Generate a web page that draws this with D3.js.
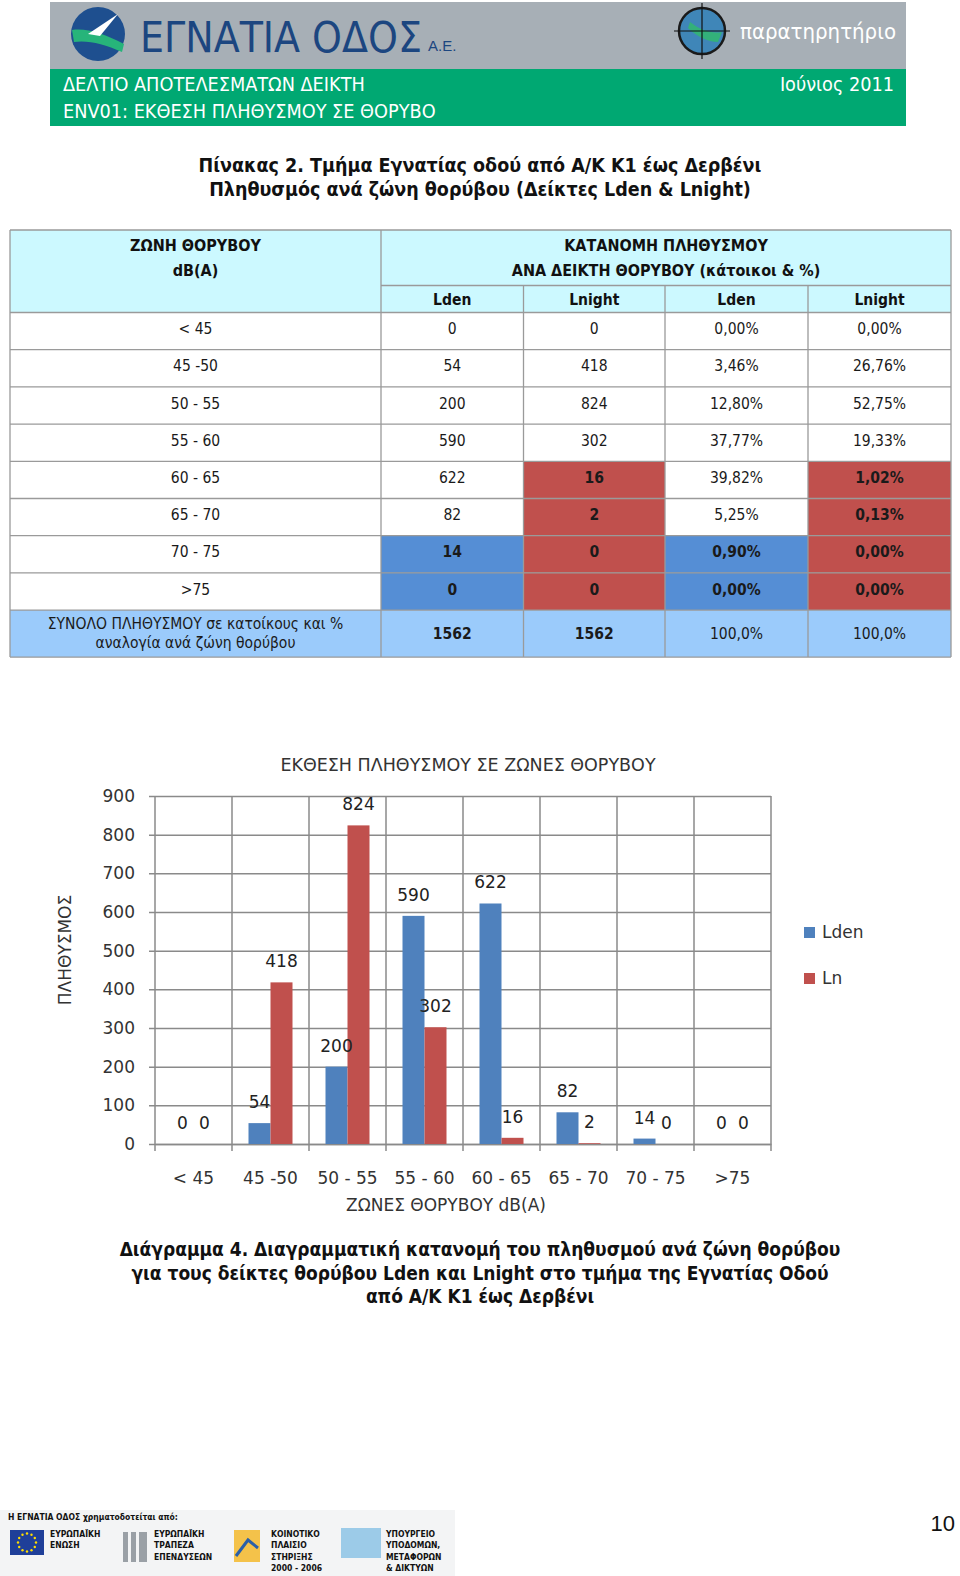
<!DOCTYPE html>
<html><head><meta charset="utf-8">
<script src="https://cdn.jsdelivr.net/npm/d3@7"></script>
<style>
html,body{margin:0;padding:0;background:#fff;}
svg{display:block;}
.cond{font-family:"DejaVu Sans Condensed","DejaVu Sans",sans-serif;font-stretch:condensed;}
.chart text{font-family:"DejaVu Sans",Verdana,sans-serif;}
</style></head>
<body>
<script>
// ---------- DATA ----------
const zones = ["< 45","45 -50","50 - 55","55 - 60","60 - 65","65 - 70","70 - 75",">75"];
const tableZones = ["< 45","45 -50","50 - 55","55 - 60","60 - 65","65 - 70","70 - 75",">75"];
const ldenValues = [0,54,200,590,622,82,14,0];
const lnightValues = [0,418,824,302,16,2,0,0];
const ldenPct = ["0,00%","3,46%","12,80%","37,77%","39,82%","5,25%","0,90%","0,00%"];
const lnightPct = ["0,00%","26,76%","52,75%","19,33%","1,02%","0,13%","0,00%","0,00%"];
const ldenHighlight = [false,false,false,false,false,false,true,true];
const lnightHighlight = [false,false,false,false,true,true,true,true];
const totals = ["1562","1562","100,0%","100,0%"];
const seriesNames = ["Lden","Ln"];
const yTicks = [0,100,200,300,400,500,600,700,800,900];

const W = 960, H = 1576;
const svg = d3.select("body").append("svg").attr("width",W).attr("height",H);

// ---------- HEADER ----------
const hdr = svg.append("g");
hdr.append("rect").attr("x",50).attr("y",2).attr("width",856).attr("height",67).attr("fill","#a7afb6");
hdr.append("rect").attr("x",50).attr("y",69).attr("width",856).attr("height",57).attr("fill","#00a872");
hdr.append("circle").attr("cx",98).attr("cy",34).attr("r",27).attr("fill","#1e4f8f");
hdr.append("path").attr("d","M72,30 C88,28 104,34 124,44 L122,52 C104,44 88,40 74,42 Z").attr("fill","#27b47a");
hdr.append("path").attr("d","M88,34 L118,14 L100,36 Z").attr("fill","#ffffff");
hdr.append("text").attr("x",140).attr("y",52).attr("fill","#1c4680")
  .attr("font-family","Liberation Sans Narrow, DejaVu Sans Condensed, sans-serif").attr("font-size",42).attr("font-stretch","condensed")
  .attr("textLength",282).attr("lengthAdjust","spacingAndGlyphs").text("ΕΓΝΑΤΙΑ ΟΔΟΣ");
hdr.append("text").attr("x",428).attr("y",51).attr("fill","#1c4680").attr("font-family","Liberation Sans Narrow, sans-serif").attr("font-size",15).text("Α.Ε.");
const ob = hdr.append("g");
ob.append("circle").attr("cx",702).attr("cy",31).attr("r",23).attr("fill","#3f86b8").attr("stroke","#1a1a1a").attr("stroke-width",2.5);
ob.append("path").attr("d","M690,22 C700,30 712,34 722,32 L718,42 C708,42 696,36 688,28 Z").attr("fill","#33b07a");
ob.append("line").attr("x1",674).attr("x2",730).attr("y1",31).attr("y2",31).attr("stroke","#111").attr("stroke-width",1.2);
ob.append("line").attr("x1",702).attr("x2",702).attr("y1",3).attr("y2",59).attr("stroke","#111").attr("stroke-width",1.2);
hdr.append("text").attr("x",740).attr("y",39).attr("fill","#fff").attr("class","cond").attr("font-size",22).text("παρατηρητήριο");
hdr.append("text").attr("x",63).attr("y",91).attr("fill","#fff").attr("class","cond").attr("font-size",19.7).text("ΔΕΛΤΙΟ ΑΠΟΤΕΛΕΣΜΑΤΩΝ ΔΕΙΚΤΗ");
hdr.append("text").attr("x",63).attr("y",118).attr("fill","#fff").attr("class","cond").attr("font-size",19.7).text("ENV01: ΕΚΘΕΣΗ ΠΛΗΘΥΣΜΟΥ ΣΕ ΘΟΡΥΒΟ");
hdr.append("text").attr("x",894).attr("y",91).attr("fill","#fff").attr("class","cond").attr("font-size",19.7).attr("text-anchor","end").text("Ιούνιος 2011");

// ---------- TABLE TITLE ----------
svg.append("text").attr("class","cond").attr("x",480).attr("y",172).attr("text-anchor","middle").attr("font-size",19.5).attr("font-weight","bold").attr("fill","#111")
  .text("Πίνακας 2.  Τμήμα Εγνατίας οδού από  Α/Κ Κ1 έως Δερβένι");
svg.append("text").attr("class","cond").attr("x",480).attr("y",196).attr("text-anchor","middle").attr("font-size",19.5).attr("font-weight","bold").attr("fill","#111")
  .text("Πληθυσμός ανά ζώνη θορύβου (Δείκτες Lden & Lnight)");

// ---------- TABLE ----------
const colX = [10,381,523.5,665,808,951];
const hTop = 230, subY = 285.5, rowTop = 312.5, rowH = 37.2;
const tbl = svg.append("g").attr("class","cond");
const borderC = "#9a9a9a";
const leftC = (colX[0]+colX[1])/2;
tbl.append("rect").attr("x",colX[0]).attr("y",hTop).attr("width",colX[5]-colX[0]).attr("height",rowTop-hTop).attr("fill","#ccf9ff");
tableZones.forEach((z,i)=>{
  const y = rowTop + i*rowH;
  const cells = [
    {t:String(ldenValues[i]), hl:ldenHighlight[i], c:"#558ed5"},
    {t:String(lnightValues[i]), hl:lnightHighlight[i], c:"#c0504d"},
    {t:ldenPct[i], hl:ldenHighlight[i], c:"#558ed5"},
    {t:lnightPct[i], hl:lnightHighlight[i], c:"#c0504d"}
  ];
  cells.forEach((c,j)=>{
    if(c.hl) tbl.append("rect").attr("x",colX[j+1]).attr("y",y).attr("width",colX[j+2]-colX[j+1]).attr("height",rowH).attr("fill",c.c);
    tbl.append("text").attr("x",(colX[j+1]+colX[j+2])/2).attr("y",y+rowH/2+3).attr("text-anchor","middle")
      .attr("font-size",15.5).attr("font-weight",c.hl?"bold":"normal").attr("fill","#1a1a1a").text(c.t);
  });
  tbl.append("text").attr("x",leftC).attr("y",y+rowH/2+3).attr("text-anchor","middle").attr("font-size",15.5).attr("fill","#1a1a1a").text(z);
});
const tY = rowTop + 8*rowH, tH = 47;
tbl.append("rect").attr("x",colX[0]).attr("y",tY).attr("width",colX[5]-colX[0]).attr("height",tH).attr("fill","#9bcbfb");
tbl.append("text").attr("x",leftC).attr("y",tY+19).attr("text-anchor","middle").attr("font-size",15.5).attr("fill","#1a1a1a").text("ΣΥΝΟΛΟ ΠΛΗΘΥΣΜΟΥ σε κατοίκους και %");
tbl.append("text").attr("x",leftC).attr("y",tY+38).attr("text-anchor","middle").attr("font-size",15.5).attr("fill","#1a1a1a").text("αναλογία ανά ζώνη θορύβου");
totals.forEach((t,j)=>{
  tbl.append("text").attr("x",(colX[j+1]+colX[j+2])/2).attr("y",tY+tH/2+5).attr("text-anchor","middle")
    .attr("font-size",15.5).attr("font-weight",j<2?"bold":"normal").attr("fill","#1a1a1a").text(t);
});
const midR = (colX[1]+colX[5])/2;
tbl.append("text").attr("x",leftC).attr("y",251).attr("text-anchor","middle").attr("font-size",16).attr("font-weight","bold").attr("fill","#111").text("ΖΩΝΗ ΘΟΡΥΒΟΥ");
tbl.append("text").attr("x",leftC).attr("y",276).attr("text-anchor","middle").attr("font-size",16).attr("font-weight","bold").attr("fill","#111").text("dB(A)");
tbl.append("text").attr("x",midR).attr("y",251).attr("text-anchor","middle").attr("font-size",16).attr("font-weight","bold").attr("fill","#111").text("ΚΑΤΑΝΟΜΗ ΠΛΗΘΥΣΜΟΥ");
tbl.append("text").attr("x",midR).attr("y",276).attr("text-anchor","middle").attr("font-size",16).attr("font-weight","bold").attr("fill","#111").text("ΑΝΑ ΔΕΙΚΤΗ ΘΟΡΥΒΟΥ (κάτοικοι & %)");
["Lden","Lnight","Lden","Lnight"].forEach((t,j)=>{
  tbl.append("text").attr("x",(colX[j+1]+colX[j+2])/2).attr("y",305).attr("text-anchor","middle").attr("font-size",15.5).attr("font-weight","bold").attr("fill","#111").text(t);
});
const bl = tbl.append("g").attr("stroke",borderC).attr("stroke-width",1.3);
const hLines = [hTop,rowTop]; for(let i=1;i<=8;i++) hLines.push(rowTop+i*rowH); hLines.push(tY+tH);
hLines.forEach(y=>bl.append("line").attr("x1",colX[0]).attr("x2",colX[5]).attr("y1",y).attr("y2",y));
bl.append("line").attr("x1",colX[1]).attr("x2",colX[5]).attr("y1",subY).attr("y2",subY);
[colX[0],colX[1],colX[5]].forEach(x=>bl.append("line").attr("x1",x).attr("x2",x).attr("y1",hTop).attr("y2",tY+tH));
[colX[2],colX[3],colX[4]].forEach(x=>bl.append("line").attr("x1",x).attr("x2",x).attr("y1",subY).attr("y2",tY+tH));

// ---------- CHART ----------
const chart = svg.append("g").attr("class","chart");
const plot = {left:155,right:771,top:796,bottom:1144};
const x0 = d3.scaleBand().domain(zones).range([plot.left,plot.right]).paddingInner(0).paddingOuter(0);
const x1 = d3.scaleBand().domain(seriesNames).range([0,x0.bandwidth()]).paddingInner(0).paddingOuter(0.75);
const y = d3.scaleLinear().domain([0,900]).range([plot.bottom,plot.top]);
const colors = {Lden:"#4f81bd", Ln:"#c0504d"};
const gridC = "#8a8a8a";

chart.append("text").attr("x",468).attr("y",771).attr("text-anchor","middle").attr("font-size",17.5).attr("fill","#333").text("ΕΚΘΕΣΗ ΠΛΗΘΥΣΜΟΥ ΣΕ ΖΩΝΕΣ ΘΟΡΥΒΟΥ");

const yAxis = d3.axisLeft(y).tickValues(yTicks).tickSize(-(plot.right-plot.left)).tickPadding(20).tickFormat(d3.format("d"));
const yg = chart.append("g").attr("transform",`translate(${plot.left},0)`).call(yAxis);
yg.select(".domain").remove();
yg.selectAll(".tick line").attr("stroke",gridC).attr("stroke-width",1.5).attr("x1",-6);
yg.selectAll(".tick text").attr("font-size",17).attr("fill","#333").attr("font-family","DejaVu Sans, Verdana, sans-serif");

const bounds = zones.map(z=>x0(z)).concat([plot.right]);
chart.append("g").selectAll("line").data(bounds).join("line")
  .attr("x1",d=>d).attr("x2",d=>d).attr("y1",plot.top).attr("y2",plot.bottom+7)
  .attr("stroke",gridC).attr("stroke-width",1.5);

const xAxis = d3.axisBottom(x0).tickSize(0).tickPadding(28);
const xg = chart.append("g").attr("transform",`translate(0,${plot.bottom})`).call(xAxis);
xg.select(".domain").attr("stroke",gridC).attr("stroke-width",1.5);
xg.selectAll(".tick text").attr("font-size",17).attr("fill","#333").attr("font-family","DejaVu Sans, Verdana, sans-serif");

const rows = zones.map((z,i)=>({zone:z, vals:[{k:"Lden",v:ldenValues[i]},{k:"Ln",v:lnightValues[i]}]}));
const grp = chart.append("g").selectAll("g").data(rows).join("g").attr("transform",d=>`translate(${x0(d.zone)},0)`);
grp.selectAll("rect").data(d=>d.vals).join("rect")
  .attr("x",d=>x1(d.k)).attr("width",x1.bandwidth())
  .attr("y",d=>y(d.v)).attr("height",d=>plot.bottom-y(d.v)).attr("fill",d=>colors[d.k]);
grp.selectAll("text").data(d=>d.vals).join("text")
  .attr("x",d=>x1(d.k)+x1.bandwidth()/2).attr("y",d=>y(d.v)-15)
  .attr("text-anchor","middle").attr("font-size",17).attr("fill","#222").text(d=>d.v);

chart.append("text").attr("x",446).attr("y",1211).attr("text-anchor","middle").attr("font-size",17).attr("fill","#333").text("ΖΩΝΕΣ ΘΟΡΥΒΟΥ  dB(A)");
chart.append("text").attr("transform","translate(71,950) rotate(-90)").attr("text-anchor","middle").attr("font-size",17).attr("fill","#333").text("ΠΛΗΘΥΣΜΟΣ");

const lg = chart.append("g").selectAll("g").data(seriesNames).join("g").attr("transform",(d,i)=>`translate(804,${927+i*46})`);
lg.append("rect").attr("width",11).attr("height",11).attr("fill",d=>colors[d]);
lg.append("text").attr("x",18).attr("y",11).attr("font-size",17).attr("fill","#333").text(d=>d);

// ---------- CAPTION ----------
const cap = ["Διάγραμμα 4.  Διαγραμματική κατανομή του πληθυσμού ανά ζώνη θορύβου",
             "για τους δείκτες  θορύβου Lden και Lnight στο τμήμα της Εγνατίας Οδού",
             "από Α/Κ Κ1 έως Δερβένι"];
cap.forEach((t,i)=>svg.append("text").attr("class","cond").attr("x",480).attr("y",1256+i*23.5).attr("text-anchor","middle")
  .attr("font-size",19).attr("font-weight","bold").attr("fill","#111").text(t));

// ---------- FOOTER ----------
const fy = 8;
const ft = svg.append("g").attr("class","cond").attr("transform",`translate(0,${fy})`);
ft.append("rect").attr("x",0).attr("y",1502).attr("width",455).attr("height",68).attr("fill","#f3f4f5");
ft.append("text").attr("x",8).attr("y",1512).attr("font-size",8.5).attr("font-weight","bold").attr("fill","#111").text("Η ΕΓΝΑΤΙΑ ΟΔΟΣ χρηματοδοτείται από:");
ft.append("rect").attr("x",10).attr("y",1522).attr("width",34).attr("height",25).attr("fill","#1f3f99");
d3.range(12).forEach(k=>{const a=k*Math.PI/6; ft.append("circle").attr("cx",27+9*Math.cos(a)).attr("cy",1534.5+9*Math.sin(a)).attr("r",1.2).attr("fill","#ffdd00");});
[[123,5],[131,5],[139,8]].forEach(([x,w])=>ft.append("rect").attr("x",x).attr("y",1524).attr("width",w).attr("height",30).attr("fill","#9aa0a6"));
ft.append("rect").attr("x",234).attr("y",1522).attr("width",26).attr("height",32).attr("fill","#f4c24a");
ft.append("path").attr("d","M236,1548 L248,1532 L258,1540").attr("stroke","#2a5fa8").attr("stroke-width",3).attr("fill","none");
ft.append("rect").attr("x",341).attr("y",1520).attr("width",40).attr("height",30).attr("fill","#9ccbe8");
const ftTexts = [
  [50,["ΕΥΡΩΠΑΪΚΗ","ΕΝΩΣΗ"]],
  [154,["ΕΥΡΩΠΑΪΚΗ","ΤΡΑΠΕΖΑ","ΕΠΕΝΔΥΣΕΩΝ"]],
  [271,["ΚΟΙΝΟΤΙΚΟ","ΠΛΑΙΣΙΟ","ΣΤΗΡΙΞΗΣ","2000 - 2006"]],
  [386,["ΥΠΟΥΡΓΕΙΟ","ΥΠΟΔΟΜΩΝ,","ΜΕΤΑΦΟΡΩΝ","& ΔΙΚΤΥΩΝ"]]
];
ftTexts.forEach(([x,lines])=>lines.forEach((t,i)=>ft.append("text").attr("x",x).attr("y",1529+i*11.3).attr("font-size",8.5).attr("font-weight","bold").attr("fill","#111").text(t)));
svg.append("text").attr("x",955).attr("y",1531).attr("text-anchor","end").attr("font-family","Liberation Sans, Arial, sans-serif").attr("font-size",22).attr("fill","#111").text("10");
</script>
</body></html>
